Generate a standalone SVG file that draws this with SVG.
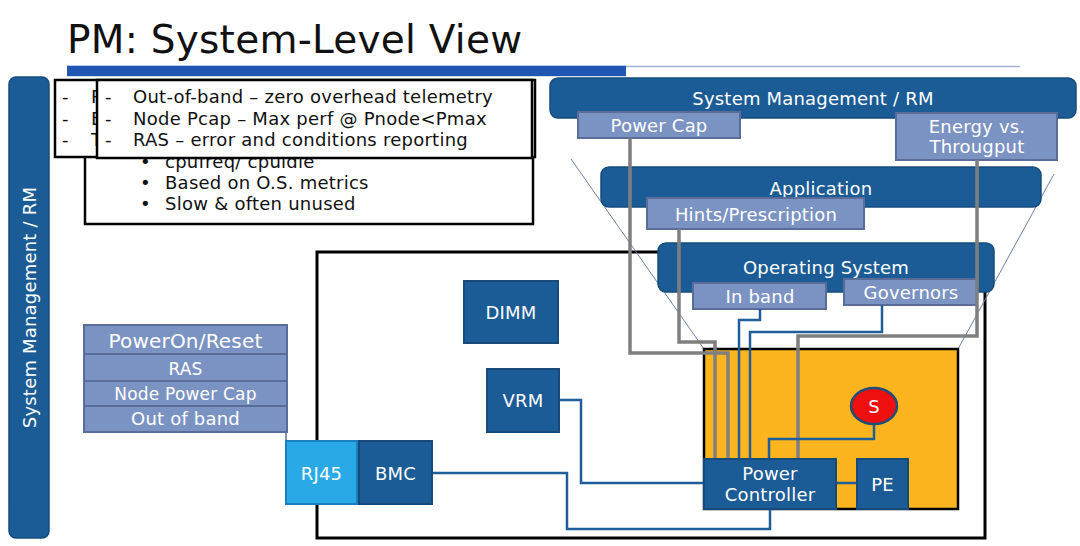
<svg xmlns="http://www.w3.org/2000/svg" width="1080" height="546" viewBox="0 0 1080 546">
<defs>
<style>
text{font-family:"DejaVu Sans",Verdana,sans-serif;letter-spacing:0.2px}
.title{font-size:39px;fill:#111;letter-spacing:0.25px}
.note{fill:#fff;stroke:#000;stroke-width:2.5}
.nt{font-size:18px;fill:#111;letter-spacing:0.25px}
.bar{fill:#1B5C96;stroke:#164C7E;stroke-width:1.5}
.lbl{fill:#7B93C3;stroke:#5A6D99;stroke-width:2}
.dk{fill:#1B5C96;stroke:#154A7A;stroke-width:2}
.wt{fill:#fff;font-size:18px;text-anchor:middle}
.gray{fill:none;stroke:#7F7F7F;stroke-width:3.5}
.blue{fill:none;stroke:#1F5E99;stroke-width:2.5}
.thin{fill:none;stroke:#6B7FA8;stroke-width:1}
</style>
</defs>
<rect x="0" y="0" width="1080" height="546" fill="#fff"/>

<text x="67" y="53" class="title">PM: System-Level View</text>
<rect x="67" y="65.7" width="559" height="10.5" fill="#1F57B3"/>
<line x1="626" y1="66.5" x2="1020" y2="66.5" stroke="#A3B3D9" stroke-width="1.5"/>

<g id="left-bar">
<rect x="9" y="77" width="40" height="461" rx="7" class="bar"/>
<text transform="translate(36,307.5) rotate(-90)" class="wt">System Management / RM</text>
</g>

<g id="note-c">
<rect x="85" y="156" width="448" height="68" class="note"/>
<text x="140" y="168" class="nt">•</text><text x="165" y="168" class="nt">cpufreq/ cpuidle</text>
<text x="140" y="189" class="nt">•</text><text x="165" y="189" class="nt">Based on O.S. metrics</text>
<text x="140" y="210" class="nt">•</text><text x="165" y="210" class="nt">Slow &amp; often unused</text>
</g>
<g id="note-a">
<rect x="55" y="80" width="480" height="77" class="note"/>
<text x="62" y="103" class="nt">-</text><text x="91" y="103" class="nt">P</text>
<text x="62" y="125" class="nt">-</text><text x="91" y="125" class="nt">E</text>
<text x="62" y="146" class="nt">-</text><text x="91" y="146" class="nt">T</text>
</g>
<g id="note-b">
<rect x="97" y="80" width="435" height="78" class="note"/>
<text x="105" y="103" class="nt">-</text><text x="133" y="103" class="nt">Out-of-band – zero overhead telemetry</text>
<text x="105" y="125" class="nt">-</text><text x="133" y="125" class="nt">Node Pcap – Max perf @ Pnode&lt;Pmax</text>
<text x="105" y="146" class="nt">-</text><text x="133" y="146" class="nt">RAS – error and conditions reporting</text>
</g>

<g id="board">
<rect x="317" y="252" width="668" height="286" fill="none" stroke="#000" stroke-width="3"/>
</g>

<g id="funnel">
<line x1="571" y1="159" x2="704" y2="349" class="thin"/>
<line x1="1054" y1="174" x2="958" y2="349" class="thin"/>
</g>

<g id="cpu">
<rect x="704" y="349" width="254" height="160" fill="#FCB51E" stroke="#000" stroke-width="2.5"/>
</g>

<g id="sysmgmt">
<rect x="550" y="78" width="526" height="40" rx="8" class="bar"/>
<text x="813" y="105" class="wt">System Management / RM</text>
</g>
<g id="powercap">
<rect x="578" y="112" width="162" height="26" class="lbl"/>
<text x="659" y="132" class="wt">Power Cap</text>
</g>
<g id="energy">
<rect x="896" y="113" width="161" height="47" class="lbl"/>
<text x="977" y="133" class="wt">Energy vs.</text>
<text x="977" y="153" class="wt">Througput</text>
</g>
<g id="application">
<rect x="601" y="167" width="440" height="40" rx="8" class="bar"/>
<text x="821" y="195" class="wt">Application</text>
</g>
<g id="hints">
<rect x="647" y="198" width="217" height="31" class="lbl"/>
<text x="756" y="221" class="wt">Hints/Prescription</text>
</g>
<g id="os">
<rect x="658" y="243" width="336" height="49" rx="8" class="bar"/>
<text x="826" y="274" class="wt">Operating System</text>
</g>
<g id="inband">
<rect x="693" y="283" width="133" height="26" class="lbl"/>
<text x="760" y="303" class="wt">In band</text>
</g>
<g id="governors">
<rect x="844" y="279" width="133" height="26" class="lbl"/>
<text x="911" y="299" class="wt">Governors</text>
</g>

<g id="stack">
<rect x="84" y="325" width="203" height="29" class="lbl"/>
<text x="185.5" y="348" class="wt" style="font-size:20px">PowerOn/Reset</text>
<rect x="84" y="354" width="203" height="27" class="lbl"/>
<text x="185.5" y="375" class="wt" style="font-size:17px">RAS</text>
<rect x="84" y="381" width="203" height="25" class="lbl"/>
<text x="185.5" y="400" class="wt" style="font-size:17px">Node Power Cap</text>
<rect x="84" y="406" width="203" height="26" class="lbl"/>
<text x="185.5" y="425" class="wt">Out of band</text>
</g>

<g id="connectors">
<path d="M630,138 V353 H728 V459" class="gray"/>
<path d="M679,229 V342 H715 V459" class="gray"/>
<path d="M977,160 V336 H798 V459" class="gray"/>
<path d="M760,309 V320 H739 V459" class="blue"/>
<path d="M882,305 V332 H750 V459" class="blue"/>
<path d="M874,424 V439 H769 V459" class="blue"/>
<path d="M836,483 H857" class="blue"/>
<path d="M559,400 H581 V483 H704" class="blue"/>
<path d="M432,473 H567 V529 H770 V509" class="blue"/>
<path d="M286,432 V441" fill="none" stroke="#5A6D99" stroke-width="1.5"/>
</g>

<g id="dimm">
<rect x="464" y="281" width="94" height="62" class="dk"/>
<text x="511" y="319" class="wt">DIMM</text>
</g>
<g id="vrm">
<rect x="487" y="369" width="72" height="63" class="dk"/>
<text x="523" y="407" class="wt">VRM</text>
</g>
<g id="rj45">
<rect x="286" y="441" width="71" height="63" fill="#29A9E6" stroke="#1A7FBF" stroke-width="2"/>
<text x="321.5" y="480" class="wt">RJ45</text>
</g>
<g id="bmc">
<rect x="359" y="441" width="73" height="63" class="dk"/>
<text x="395.5" y="480" class="wt">BMC</text>
</g>
<g id="power-controller">
<rect x="704" y="459" width="132" height="50" class="dk"/>
<text x="770" y="480" class="wt">Power</text>
<text x="770" y="501" class="wt">Controller</text>
</g>
<g id="pe">
<rect x="857" y="459" width="51" height="50" class="dk"/>
<text x="882.5" y="491" class="wt">PE</text>
</g>
<g id="s">
<ellipse cx="874" cy="406" rx="23" ry="18" fill="#EE0F0F" stroke="#1F4E79" stroke-width="2.5"/>
<text x="874" y="413" class="wt">S</text>
</g>
</svg>
